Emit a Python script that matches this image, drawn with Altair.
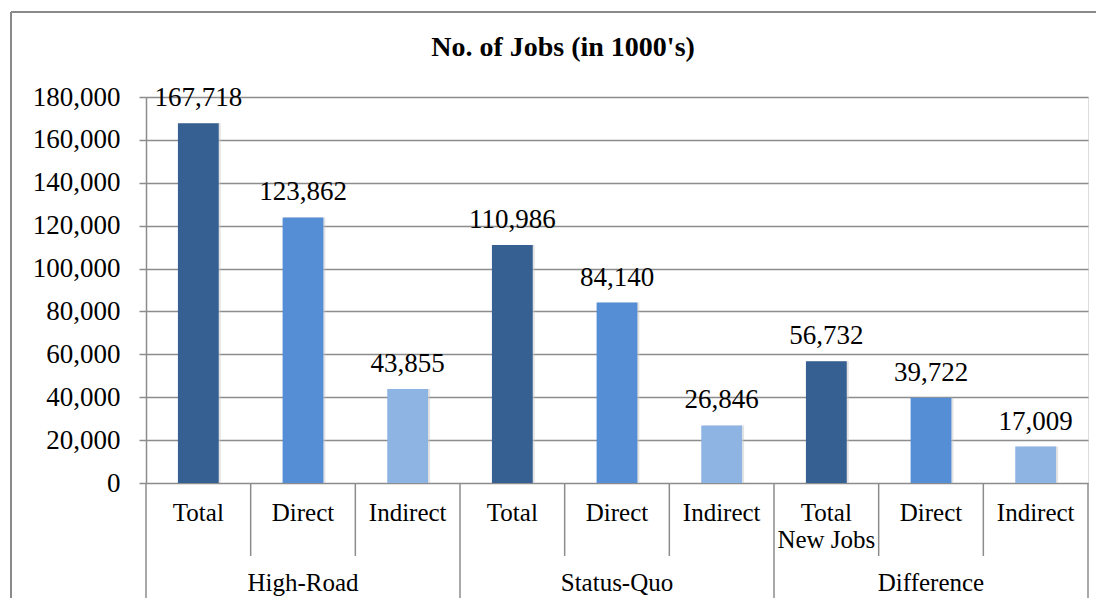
import altair as alt
import pandas as pd

groups = ["High-Road", "High-Road", "High-Road",
          "Status-Quo", "Status-Quo", "Status-Quo",
          "Difference", "Difference", "Difference"]
subs = ["Total", "Direct", "Indirect",
        "Total", "Direct", "Indirect",
        "Total\nNew Jobs", "Direct", "Indirect"]
kinds = ["Total", "Direct", "Indirect"] * 3
values = [167718, 123862, 43855, 110986, 84140, 26846, 56732, 39722, 17009]
y_ticks = [0, 20000, 40000, 60000, 80000, 100000, 120000, 140000, 160000, 180000]
title_text = ["No. of Jobs (in 1000's)"]

kind_colors = ["#366092", "#558ED5", "#8EB4E3"]
kind_order = ["Total", "Direct", "Indirect"]

keys = [f"{g}|{s}" for g, s in zip(groups, subs)]
df = pd.DataFrame({
    "key": keys, "group": groups, "sub": subs, "kind": kinds,
    "value": values, "pos": list(range(len(keys))),
})

W, H = 942, 386
GRID = "#8c8c8c"
FONT = "Liberation Serif"

xenc = alt.X("key:N", sort=keys, scale=alt.Scale(paddingInner=0, paddingOuter=0), axis=None)
yenc = alt.Y("value:Q", scale=alt.Scale(domain=[0, 180000], nice=False),
             axis=alt.Axis(values=y_ticks, format=",d", title=None, grid=True,
                           gridColor=GRID, gridWidth=1.5, domain=True, domainColor=GRID,
                           domainWidth=1.5, tickColor=GRID, tickWidth=1.5, tickSize=7,
                           labelFont=FONT, labelFontSize=27, labelColor="black",
                           labelPadding=19))

base = alt.Chart(df)

shadow = base.mark_bar(width=alt.RelativeBandSize(0.39), color="#c8c8c8", opacity=0.5,
                       xOffset=2).encode(x=xenc, y=alt.Y("value:Q"))
bars = base.mark_bar(width=alt.RelativeBandSize(0.39)).encode(
    x=xenc, y=yenc,
    color=alt.Color("kind:N", scale=alt.Scale(domain=kind_order, range=kind_colors), legend=None),
)
vlabels = base.mark_text(font=FONT, fontSize=27, baseline="alphabetic", dy=-17, color="black").encode(
    x=xenc, y=alt.Y("value:Q"), text=alt.Text("value:Q", format=",d")
)
sublabels = base.mark_text(font=FONT, fontSize=25, baseline="alphabetic", lineBreak="\n",
                           lineHeight=27, color="black").encode(
    x=xenc, y=alt.value(424), text="sub:N"
)
glabels = base.transform_filter("datum.pos % 3 == 1").mark_text(
    font=FONT, fontSize=25, baseline="alphabetic", color="black").encode(
    x=xenc, y=alt.value(494), text="group:N"
)
short_sep = base.transform_filter("datum.pos % 3 != 0").mark_rule(color=GRID, strokeWidth=1.5).encode(
    x=alt.X("key:N", sort=keys, bandPosition=0), y=alt.value(H), y2=alt.value(459)
)
long_sep = base.transform_filter("datum.pos % 3 == 0").mark_rule(color=GRID, strokeWidth=1.5).encode(
    x=alt.X("key:N", sort=keys, bandPosition=0), y=alt.value(H), y2=alt.value(560)
)
end_sep = base.transform_filter("datum.pos == 8").mark_rule(color=GRID, strokeWidth=1.5).encode(
    x=alt.X("key:N", sort=keys, bandPosition=1), y=alt.value(H), y2=alt.value(560)
)
one = pd.DataFrame({"a": [0]})
border_top = alt.Chart(one).mark_rule(color="#8a8a8a", strokeWidth=2).encode(
    x=alt.value(-135), x2=alt.value(1300), y=alt.value(-85)
)
border_left = alt.Chart(one).mark_rule(color="#8a8a8a", strokeWidth=2).encode(
    x=alt.value(-135), y=alt.value(-85), y2=alt.value(900)
)
title = alt.Chart(pd.DataFrame({"t": title_text})).mark_text(
    font=FONT, fontSize=28, fontWeight="bold", color="black", baseline="alphabetic", align="center"
).encode(x=alt.value(417), y=alt.value(-41), text="t:N")

chart = alt.layer(border_top, border_left, title, shadow, bars, vlabels, sublabels, glabels,
                  short_sep, long_sep, end_sep).properties(
    width=W, height=H,
    autosize=alt.AutoSizeParams(type="none"),
    padding={"left": 138, "top": 89, "right": 8, "bottom": 115},
).configure_view(stroke=None).configure(background="white")

chart.save("out.html", embed_options={"renderer": "svg", "actions": False})
